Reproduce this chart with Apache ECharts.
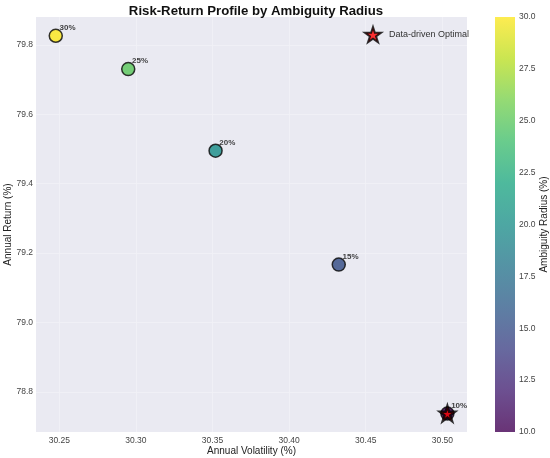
<!DOCTYPE html>
<html>
<head>
<meta charset="utf-8">
<script src="https://cdn.jsdelivr.net/npm/echarts@6/dist/echarts.min.js"></script>
<style>html,body{margin:0;padding:0;background:#fff}#c{width:550px;height:458px}</style>
</head>
<body>
<div id="c"></div>
<script>
// ---- data ----
const radius = [10, 15, 20, 25, 30];
const volatility = [30.5033, 30.4324, 30.352, 30.295, 30.2477];
const annualReturn = [78.738, 79.167, 79.495, 79.73, 79.826];
const optimalIndex = 0;
const xTicks = [30.25, 30.30, 30.35, 30.40, 30.45, 30.50];
const yTicks = [78.8, 79.0, 79.2, 79.4, 79.6, 79.8];
const cbarTicks = [10.0, 12.5, 15.0, 17.5, 20.0, 22.5, 25.0, 27.5, 30.0];
const radiusMin = 10, radiusMax = 30;

const viridis = ['#440154','#482475','#414487','#355f8d','#2a788e','#21918c','#22a884','#44bf70','#7ad151','#bddf26','#fde725'];
const starPath = 'path://M50,2 L61.2,36.5 L97.6,36.5 L68.2,57.9 L79.4,92.5 L50,71.1 L20.6,92.5 L31.8,57.9 L2.4,36.5 L38.8,36.5 Z';
const FONT = '"Liberation Sans", Arial, sans-serif';

const points = radius.map((r, i) => [volatility[i], annualReturn[i], r]);
const optimal = [[volatility[optimalIndex], annualReturn[optimalIndex], radius[optimalIndex]]];

const chart = echarts.init(document.getElementById('c'), null, {renderer: 'canvas'});
chart.setOption({
  animation: false,
  textStyle: {fontFamily: FONT},
  title: {
    text: 'Risk-Return Profile by Ambiguity Radius',
    left: 251, top: 0, textAlign: 'center',
    textStyle: {fontFamily: FONT, fontWeight: 'bold', fontSize: 13.2, color: '#111'}
  },
  legend: {
    left: 359, top: 21,
    itemWidth: 16, itemHeight: 16,
    data: [{name: 'Data-driven Optimal', icon: starPath}],
    textStyle: {fontFamily: FONT, fontSize: 9, color: '#333', padding: [0,0,0,3]}
  },
  grid: [
    {left: 36, right: 83, top: 17, bottom: 26, show: true, backgroundColor: '#EAEAF2', borderWidth: 0, outerBoundsMode: 'none', containLabel: false},
    {left: 495, width: 20, top: 17, bottom: 26, show: false, outerBoundsMode: 'none', containLabel: false}
  ],
  xAxis: [
    {
      type: 'value', gridIndex: 0, min: 30.2348, max: 30.5161,
      name: 'Annual Volatility (%)', nameLocation: 'middle', nameGap: 14, nameMoveOverlap: false,
      nameTextStyle: {fontFamily: FONT, fontSize: 10, color: '#222'},
      axisLine: {show: false},
      axisTick: {show: false, customValues: xTicks},
      axisLabel: {customValues: xTicks, formatter: v => v.toFixed(2), fontFamily: FONT, fontSize: 8.5, color: '#444', margin: 4},
      splitLine: {show: true, lineStyle: {color: '#F1F1F6', width: 0.8}}
    },
    {type: 'category', gridIndex: 1, data: ['c'], show: false}
  ],
  yAxis: [
    {
      type: 'value', gridIndex: 0, min: 78.685, max: 79.88,
      name: 'Annual Return (%)', nameLocation: 'middle', nameGap: 23, nameRotate: 90, nameMoveOverlap: false,
      nameTextStyle: {fontFamily: FONT, fontSize: 10, color: '#222'},
      axisLine: {show: false},
      axisTick: {show: false, customValues: yTicks},
      axisLabel: {customValues: yTicks, formatter: v => v.toFixed(1), fontFamily: FONT, fontSize: 8.5, color: '#444', margin: 3},
      splitLine: {show: true, lineStyle: {color: '#F1F1F6', width: 0.8}}
    },
    {
      type: 'value', gridIndex: 1, position: 'right', min: radiusMin, max: radiusMax,
      name: 'Ambiguity Radius (%)', nameLocation: 'middle', nameGap: 24, nameRotate: 90, nameMoveOverlap: false,
      nameTextStyle: {fontFamily: FONT, fontSize: 10, color: '#222'},
      axisLine: {show: false},
      axisTick: {show: false, customValues: cbarTicks},
      axisLabel: {customValues: cbarTicks, formatter: v => v.toFixed(1), fontFamily: FONT, fontSize: 8.5, color: '#444', margin: 4},
      splitLine: {show: false}
    }
  ],
  visualMap: {
    show: false, type: 'continuous', seriesIndex: 0, dimension: 2,
    min: radiusMin, max: radiusMax,
    inRange: {color: viridis}
  },
  series: [
    {
      name: 'Radius', type: 'scatter', xAxisIndex: 0, yAxisIndex: 0,
      data: points, symbolSize: 13, z: 2,
      itemStyle: {opacity: 0.85, borderColor: '#111', borderWidth: 1.5},
      label: {
        show: true, position: [11, -5], align: 'left', verticalAlign: 'top',
        formatter: p => p.value[2] + '%',
        fontFamily: FONT, fontWeight: 'bold', fontSize: 8, color: '#222'
      }
    },
    {
      name: 'Data-driven Optimal', type: 'scatter', xAxisIndex: 0, yAxisIndex: 0,
      data: optimal, symbol: starPath, symbolSize: 15, z: 3,
      itemStyle: {color: '#ff0000', borderColor: '#000', borderWidth: 2.5}
    },
    {
      name: 'colorbar', type: 'bar', xAxisIndex: 1, yAxisIndex: 1,
      data: [radiusMax], barWidth: '100%', clip: true, silent: true,
      itemStyle: {
        opacity: 0.8,
        color: new echarts.graphic.LinearGradient(0, 1, 0, 0,
          viridis.map((c, i) => ({offset: i / (viridis.length - 1), color: c})))
      }
    }
  ]
});
</script>
</body>
</html>
